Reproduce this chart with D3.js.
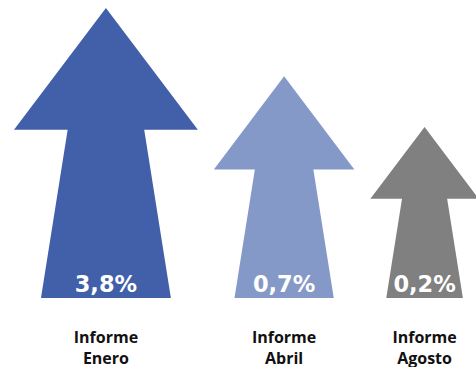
<!DOCTYPE html>
<html>
<head>
<meta charset="utf-8">
<script src="https://cdn.jsdelivr.net/npm/d3@7"></script>
<style>
  html, body { margin: 0; padding: 0; background: #fff; }
  svg { display: block; }
  text { font-weight: bold; }
  text.cat { font-family: "Open Sans", Lato, sans-serif; }
  text.value { font-family: "DejaVu Sans", "Open Sans", sans-serif; }
</style>
</head>
<body>
<svg id="chart" width="476" height="367"></svg>
<script>
// Growth forecast per report
const reports = ["Informe Enero", "Informe Abril", "Informe Agosto"];
const growth = [3.8, 0.7, 0.2];
const valueLabels = ["3,8%", "0,7%", "0,2%"];
const colors = ["#4160a9", "#8599c8", "#808080"];

const W = 476, H = 367;
const baseY = 298;      // arrow bottoms
const startX = 14;      // left edge of first arrow head
const gap = 16;         // gap between arrow heads

// Arrow tip position on a log scale
const y = d3.scaleLog().domain([0.2, 3.8]).range([127, 8]);

// Arrow shape proportions (relative to arrow height)
const headLen = 0.42, headHalf = 0.317, shaftTopHalf = 0.132, shaftBotHalf = 0.224;

const svg = d3.select("#chart");

let cursor = startX;
const arrows = growth.map((v, i) => {
  const tip = y(v);
  const h = baseY - tip;
  const cx = cursor + headHalf * h;
  cursor += 2 * headHalf * h + gap;
  return { i, v, tip, h, cx };
});

const line = d3.line();

svg.selectAll("path.arrow")
  .data(arrows)
  .join("path")
  .attr("class", "arrow")
  .attr("fill", d => colors[d.i])
  .attr("d", d => {
    const hb = d.tip + headLen * d.h;
    return line([
      [d.cx, d.tip],
      [d.cx + headHalf * d.h, hb],
      [d.cx + shaftTopHalf * d.h, hb],
      [d.cx + shaftBotHalf * d.h, baseY],
      [d.cx - shaftBotHalf * d.h, baseY],
      [d.cx - shaftTopHalf * d.h, hb],
      [d.cx - headHalf * d.h, hb]
    ]) + "Z";
  });

svg.selectAll("text.value")
  .data(arrows)
  .join("text")
  .attr("class", "value")
  .attr("x", d => d.cx)
  .attr("y", 291.5)
  .attr("text-anchor", "middle")
  .attr("fill", "#fff")
  .attr("font-size", 22.5)
  .text(d => valueLabels[d.i]);

const cat = svg.selectAll("text.cat")
  .data(arrows)
  .join("text")
  .attr("class", "cat")
  .attr("text-anchor", "middle")
  .attr("fill", "#111")
  .attr("font-size", 16);

cat.each(function(d) {
  const parts = reports[d.i].split(" ");
  d3.select(this).selectAll("tspan")
    .data(parts)
    .join("tspan")
    .attr("x", d.cx)
    .attr("y", (p, k) => 342.5 + k * 21)
    .text(p => p);
});
</script>
</body>
</html>
